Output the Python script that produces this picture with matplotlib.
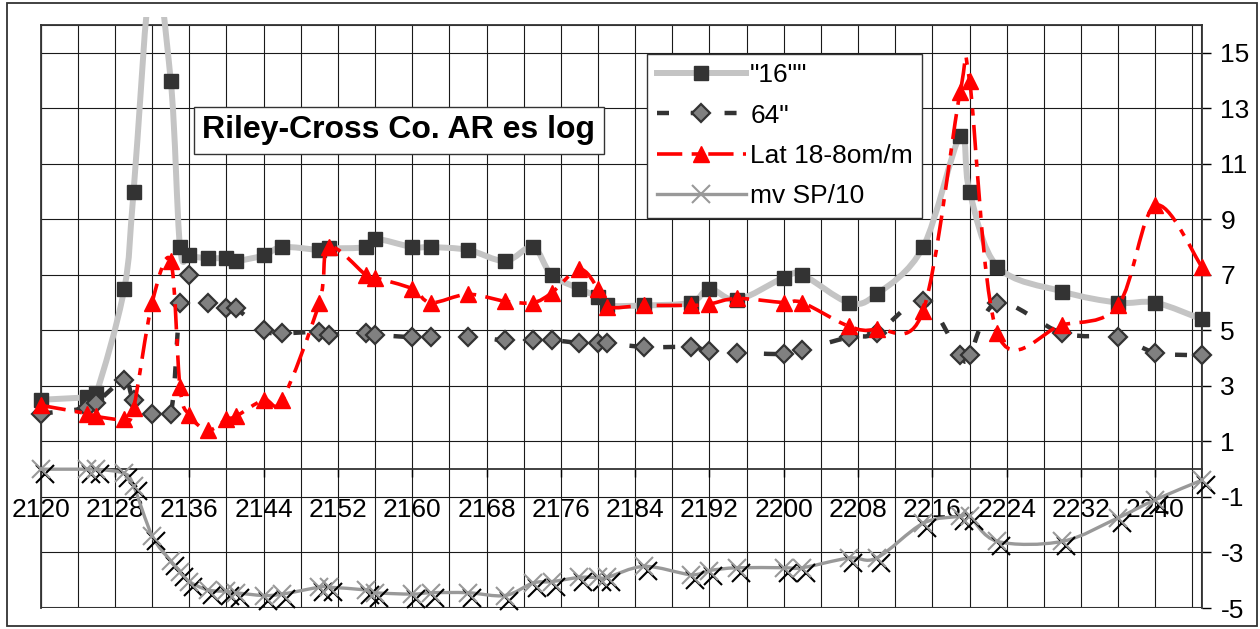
import numpy as np
import matplotlib
matplotlib.use("Agg")
import matplotlib.pyplot as plt
from matplotlib.path import Path
from matplotlib.patches import PathPatch, Rectangle
from matplotlib.lines import Line2D
from matplotlib.transforms import Bbox, TransformedBbox, ScaledTranslation

plt.rcParams['font.family'] = ['Liberation Sans', 'DejaVu Sans']
plt.rcParams['axes.unicode_minus'] = False

# depth samples (shared by all four curves)
depth = [2120, 2125, 2126, 2129, 2130, 2132, 2134, 2135, 2136, 2138,
         2140, 2141, 2144, 2146, 2150, 2151, 2155, 2156, 2160, 2162,
         2166, 2170, 2173, 2175, 2178, 2180, 2181, 2185, 2190, 2192,
         2195, 2200, 2202, 2207, 2210, 2215, 2219, 2220, 2223, 2230,
         2236, 2240, 2245]

normal_16 = [2.5, 2.6, 2.75, 6.5, 10, 18, 14, 8, 7.7, 7.6,
             7.6, 7.5, 7.7, 8.0, 7.9, 7.95, 8.0, 8.3, 8.0, 8.0,
             7.9, 7.5, 8.0, 7.0, 6.5, 6.2, 5.9, 5.9, 6.0, 6.5,
             6.1, 6.9, 7.0, 6.0, 6.3, 8.0, 12, 10, 7.3, 6.4,
             6.0, 6.0, 5.4]

normal_64 = [2.0, 2.2, 2.4, 3.2, 2.5, 2.0, 2.0, 6.0, 7.0, 6.0,
             5.8, 5.8, 5.0, 4.9, 4.95, 4.85, 4.9, 4.85, 4.75, 4.75,
             4.75, 4.65, 4.65, 4.65, 4.55, 4.55, 4.55, 4.4, 4.4, 4.25,
             4.2, 4.15, 4.3, 4.75, 4.9, 6.05, 4.1, 4.1, 6.0, 4.9,
             4.75, 4.2, 4.1]

lateral = [2.3, 2.0, 1.9, 1.8, 2.2, 6.0, 7.5, 2.95, 1.95, 1.4,
           1.8, 1.9, 2.5, 2.5, 6.0, 8.0, 7.0, 6.9, 6.5, 6.0,
           6.3, 6.05, 6.0, 6.35, 7.2, 6.5, 5.85, 5.9, 5.9, 5.95,
           6.15, 6.0, 6.0, 5.15, 5.05, 5.7, 13.6, 14.0, 4.9, 5.2,
           5.9, 9.5, 7.3]

sp_10 = [0, 0, 0, -0.15, -0.6, -2.4, -3.3, -3.7, -4.05, -4.35,
         -4.4, -4.45, -4.55, -4.5, -4.25, -4.25, -4.35, -4.45, -4.5, -4.45,
         -4.45, -4.55, -4.1, -4.05, -3.9, -3.9, -3.9, -3.5, -3.8, -3.65,
         -3.55, -3.55, -3.55, -3.2, -3.2, -1.95, -1.7, -1.7, -2.6, -2.6,
         -1.75, -1.1, -0.4]

labels = ['"16""', '64"', 'Lat 18-8om/m', 'mv SP/10']
title = 'Riley-Cross Co. AR es log'

x_major = list(range(2120, 2241, 8))
x_minor = list(range(2124, 2245, 8))
y_major = list(range(-5, 16, 2))

W, H, DPI = 1260, 629, 100


def smooth_path(x, y):
    # excel style smoothed line: bezier segments through every point
    pts = np.column_stack([x, y]).astype(float)
    pad = np.vstack([pts[:1], pts, pts[-1:]])
    verts = [pts[0]]
    codes = [Path.MOVETO]
    for i in range(len(pts) - 1):
        p0, p1, p2, p3 = pad[i], pad[i + 1], pad[i + 2], pad[i + 3]
        verts += [p1 + (p2 - p0) / 6, p2 - (p3 - p1) / 6, p2]
        codes += [Path.CURVE4] * 3
    return Path(verts, codes)


fig = plt.figure(figsize=(W / DPI, H / DPI), dpi=DPI)
ax = fig.add_axes([40.7 / W, 21 / H, 1161 / W, 583 / H])

styles = [
    dict(color='#c4c4c4', lw=4.3, ls='-'),
    dict(color='#333333', lw=3.2, ls=(0, (2.7, 4.9))),
    dict(color='#ff0000', lw=2.6, ls=(0, (7, 2.6, 2, 2.6))),
    dict(color='#999999', lw=2.4, ls='-'),
]
markers = [
    dict(marker='s', ms=10.5, mfc='#333333', mec='#333333', mew=1),
    dict(marker='D', ms=9.5, mfc='#808080', mec='#333333', mew=1.6),
    dict(marker='^', ms=11, mfc='#ff0000', mec='#ff0000', mew=1),
    dict(marker='x', ms=12.5, mec='#999999', mew=1.5),
]

series = [normal_16, normal_64, lateral, sp_10]
for k, values in enumerate(series):
    st = styles[k]
    patch = PathPatch(smooth_path(depth, values), fill=False,
                      edgecolor=st['color'], linewidth=st['lw'],
                      linestyle=st['ls'], capstyle='butt',
                      joinstyle='round', zorder=3 + k)
    ax.add_patch(patch)
    if k == 0:
        # the 16" trace runs past the top of the plot area a little
        patch.set_clip_path(None)
        patch.set_clip_box(TransformedBbox(
            Bbox.from_extents(40.7 / W, 21 / H, 1201.7 / W, 1 - 16.7 / H),
            fig.transFigure))
    if k == 3:
        shadow = ax.transData + ScaledTranslation(4 / DPI, -5 / DPI,
                                                  fig.dpi_scale_trans)
        ax.plot(depth, values, ls='none', marker='x', ms=12.5, mew=1.5,
                color='black', transform=shadow, zorder=3 + k, clip_on=False)
    ax.plot(depth, values, ls='none', zorder=3 + k, clip_on=False,
            **markers[k])

ax.set_xlim(2120, 2245)
ax.set_ylim(-5, 16)

ax.set_xticks(x_major, labels=[str(v) for v in x_major])
ax.set_xticks(x_minor, minor=True)
ax.set_yticks(y_major, labels=[str(v) for v in y_major])

ax.spines['bottom'].set_position(('data', 0))
for s in ax.spines.values():
    s.set_color('#333333')
    s.set_linewidth(1.3)
ax.add_patch(Rectangle((0, 0), 1, 1, transform=ax.transAxes, fill=False,
                       ec='#333333', lw=1.5, zorder=2.5))

ax.yaxis.tick_right()
ax.tick_params(axis='x', which='major', direction='out', length=6,
               width=1, pad=15, labelsize=19, colors='black')
ax.tick_params(axis='x', which='minor', length=0)
ax.tick_params(axis='y', direction='out', length=6.5, width=1, pad=7,
               labelsize=19, colors='black')

ax.grid(True, axis='x', which='both', color='#1a1a1a', lw=0.8)
ax.grid(True, axis='y', which='major', color='#1a1a1a', lw=0.8)
ax.set_axisbelow(True)

handles = []
for st, mk in zip(styles, markers):
    handles.append(Line2D([], [], color=st['color'], lw=st['lw'],
                          ls=st['ls'], **mk))
leg = ax.legend(handles, labels, loc='upper left',
                bbox_to_anchor=(647.3 / W, 1 - 54 / H),
                bbox_transform=fig.transFigure, borderaxespad=0,
                fontsize=19, handlelength=3.4, handletextpad=0.15,
                labelspacing=0.62, borderpad=0.35, frameon=True,
                fancybox=False, edgecolor='#333333', framealpha=1)
leg.get_frame().set_linewidth(1)
leg.set_zorder(10)

fig.text(399 / W, 1 - 130.3 / H, title, fontsize=23, fontweight='bold',
         ha='center', va='center', zorder=10,
         bbox=dict(boxstyle='square,pad=0.27', fc='white', ec='#333333',
                   lw=1))

fig.patches.append(Rectangle((6.7 / W, 3 / H), 1250.3 / W, 622.7 / H,
                             transform=fig.transFigure, fill=False,
                             ec='#333333', lw=1.3))

fig.savefig('out.png', dpi=DPI)
